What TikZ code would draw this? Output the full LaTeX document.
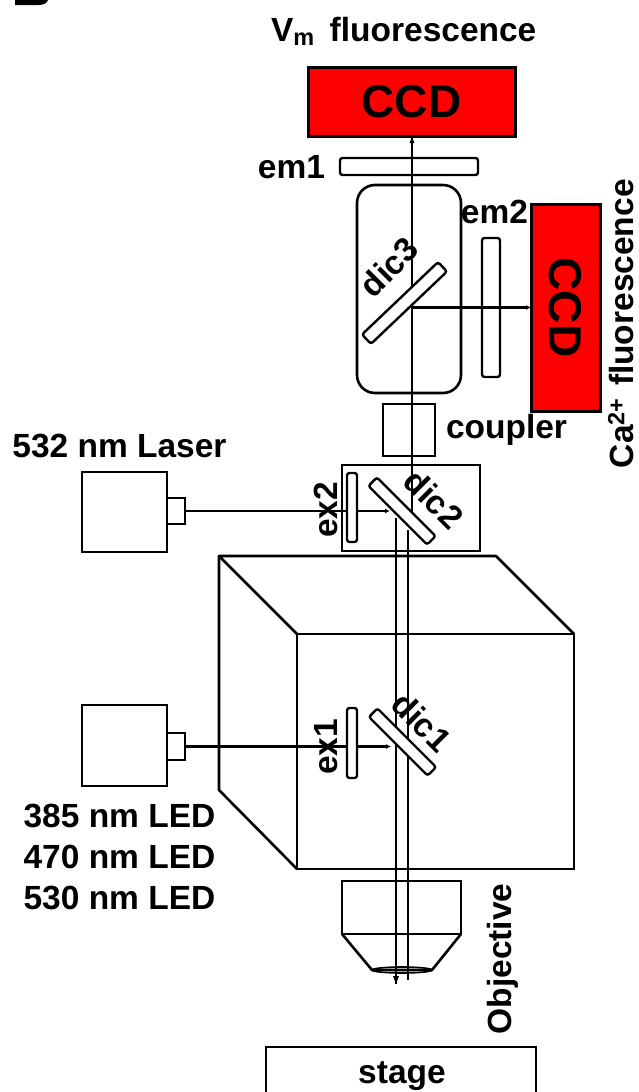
\documentclass[tikz,border=0pt]{standalone}
\usepackage{fontspec}
\setmainfont{Liberation Sans}
\usetikzlibrary{arrows.meta,shapes.geometric}
\newcommand{\lbl}{\fontsize{33.5}{33.5}\selectfont\bfseries}
\tikzset{
  x=1pt,y=-1pt,
  every node/.style={inner sep=0pt,outer sep=0pt},
  ln/.style={draw=black,line width=2.6pt,line join=round},
  thin beam/.style={draw=black,line width=2.2pt,-{Latex[length=5pt,width=5pt]}},
  beam/.style={draw=black,line width=2.6pt},
  ccdbox/.style={draw=black,fill=red,line width=3pt,font=\fontsize{46}{46}\selectfont\bfseries},
  filt/.style={draw=black,fill=white,line width=2.4pt,rounded corners=2.5pt},
  txt/.style={font=\lbl,text=black},
}
\begin{document}
\begin{tikzpicture}
\useasboundingbox (0,0) rectangle (638,1092);
\fill[white] (0,0) rectangle (638,1092);
% clipped letter
\fill[black] (15,0) -- (48,0) .. controls (47,3) and (44,5) .. (38,5) -- (15,5) -- cycle;
% top detector and labels
\node[ccdbox,minimum width=207pt,minimum height=69pt] (ccda) at (411.5,101.5) {CCD};
\node[txt,anchor=base west] (vm) at (271,41) {V\textsubscript{m}\hspace{15pt}fluorescence};
% cube
\coordinate (bl) at (219,556); \coordinate (br) at (496,556); \coordinate (bb) at (219,790);
\node[draw=black,line width=2.6pt,minimum width=277pt,minimum height=235pt,anchor=north west] (cube) at (297,634) {};
\draw[ln] (cube.north west) -- (bl) -- (br) -- (cube.north east);
\draw[ln] (bl) -- (bb) -- (cube.south west);
% junction and beams
\coordinate (j3) at (412,307.5);
\coordinate (d2top) at (412,522);
\coordinate (retin) at (396,518);
\coordinate (retout) at (396,984);
\coordinate (up) at (408,530);
\coordinate (upend) at (408,980);
\draw[beam] (retin) -- (retout);
\fill[black] (393,976) -- (399,976) -- (396,984) -- cycle;
\draw[beam] (up) -- (upend);
% objective
\node[draw=black,line width=2.6pt,minimum width=119pt,minimum height=53pt,anchor=north west] (objt) at (342,881) {};
\draw[ln] (objt.south west) -- (372,970) -- (432,970) -- (objt.south east);
\node[draw=black,line width=1.6pt,ellipse,minimum width=60pt,minimum height=6pt] (lens) at (402,970) {};
\node[txt,rotate=90] (obj) at (503,959) {Objective};
% stage
\node[draw=black,line width=2.6pt,minimum width=270pt,minimum height=70pt,anchor=north west] (stage) at (266,1047) {};
\node[txt] (st) at (402,1076) {stage};
% em1, dic3 housing
\node[draw=black,line width=2.6pt,rounded corners=18pt,minimum width=104pt,minimum height=208pt,anchor=north west] (hous) at (357,185) {};
\node[filt,minimum width=138pt,minimum height=17pt,anchor=north west] (ema) at (340,158) {};
\node[txt] (emalab) at (291.5,167) {em1};
% upper beam
\coordinate (ccdtip) at (412,137);
\draw[beam] (d2top) -- (ccdtip);
\fill[black] (409.5,143) -- (414.5,143) -- (412,137) -- cycle;
% dic3
\node[filt,minimum width=105pt,minimum height=13pt,rotate=43.6] (dicc) at (404.5,303) {};
\node[txt,rotate=45] (dicclab) at (389,267) {dic3};
% em2, second detector
\node[draw=black,line width=2.4pt,rounded corners=2.5pt,minimum width=18pt,minimum height=139pt,anchor=north west] (emb) at (482,238) {};
\node[txt] (emblab) at (494.5,212) {em2};
\node[ccdbox,minimum width=207pt,minimum height=69pt,rotate=-90] (ccdb) at (565.5,307.5) {CCD};
\draw[thin beam] (j3) -- (ccdb.south);
\node[txt,rotate=90,anchor=base west] (ca) at (633.5,468) {Ca\textsuperscript{2+}\hspace{12pt}fluorescence};
% coupler
\node[draw=black,line width=2.6pt,minimum width=52pt,minimum height=52pt,anchor=north west] (coup) at (383,404) {};
\node[txt] (couplab) at (506.5,430) {coupler};
% box 2
\node[draw=black,line width=2.6pt,minimum width=138pt,minimum height=86pt,anchor=north west] (boxb) at (342,465) {};
% laser
\node[txt] (laslab) at (119.5,446) {532 nm Laser};
\node[draw=black,line width=2.6pt,minimum width=85pt,minimum height=80pt,anchor=north west] (las) at (82,472) {};
\node[draw=black,line width=2.6pt,minimum width=18pt,minimum height=26pt,anchor=north west] (lasc) at (167,498) {};
\coordinate (d2hit) at (390,511);
\draw[thin beam] (lasc.east) -- (d2hit);
\node[filt,minimum width=10pt,minimum height=69pt,anchor=north west] (exb) at (347,473) {};
\node[filt,minimum width=83pt,minimum height=12pt,rotate=-45] (dicb) at (402,511) {};
\node[txt,rotate=90] (exblab) at (326,510) {ex2};
\node[txt,rotate=-45] (dicblab) at (434,499) {dic2};
% LED
\node[draw=black,line width=2.6pt,minimum width=85pt,minimum height=81pt,anchor=north west] (led) at (82,705) {};
\node[draw=black,line width=2.6pt,minimum width=18pt,minimum height=27pt,anchor=north west] (ledc) at (167,733) {};
\coordinate (d1hit) at (391,746.5);
\draw[thin beam] (ledc.east) -- (d1hit);
\node[filt,minimum width=10pt,minimum height=70pt,anchor=north west] (exa) at (347,708) {};
\node[filt,minimum width=83pt,minimum height=12pt,rotate=-45] (dica) at (402.5,742) {};
\node[txt,rotate=90] (exalab) at (326,747) {ex1};
\node[txt,rotate=-45] (dicalab) at (422,722) {dic1};
\node[txt] (l1) at (119.5,816) {385 nm LED};
\node[txt] (l2) at (119.5,857) {470 nm LED};
\node[txt] (l3) at (119.5,898) {530 nm LED};
\end{tikzpicture}
\end{document}
